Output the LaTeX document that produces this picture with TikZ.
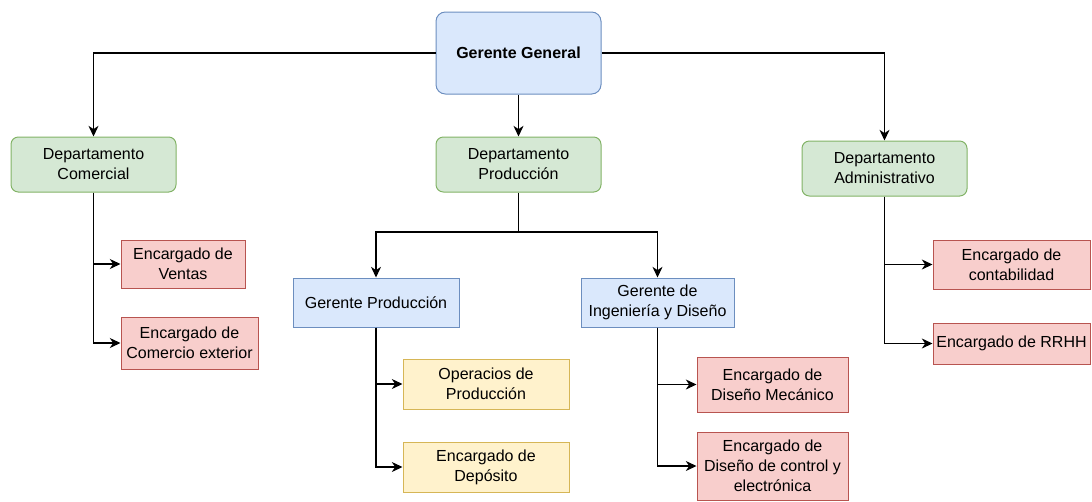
\documentclass[tikz,border=0pt]{standalone}
\usepackage{fontspec}
\setmainfont{Liberation Sans}
\usepackage{xcolor}
\usetikzlibrary{arrows.meta}

\definecolor{bluefill}{HTML}{DAE8FC}
\definecolor{blueline}{HTML}{6C8EBF}
\definecolor{greenfill}{HTML}{D5E8D4}
\definecolor{greenline}{HTML}{82B366}
\definecolor{redfill}{HTML}{F8CECC}
\definecolor{redline}{HTML}{B85450}
\definecolor{yellowfill}{HTML}{FFF2CC}
\definecolor{yellowline}{HTML}{D6B656}

\begin{document}
\begin{tikzpicture}[
      x=0.75pt, y=-0.75pt,
      box/.style={draw, line width=0.75pt, align=center, inner sep=2pt,
                  font=\fontsize{12}{15}\selectfont},
      mgr/.style={box, fill=bluefill, draw=blueline},
      dept/.style={box, rounded corners=5.5pt, fill=greenfill, draw=greenline},
      staff/.style={box, fill=redfill, draw=redline},
      ops/.style={box, fill=yellowfill, draw=yellowline},
      arr/.style={->, line width=0.9pt, >={Stealth[length=8pt,width=7.5pt,inset=2.5pt]}}
    ]
      \useasboundingbox (0,0) rectangle (1092,501);

      % Direction
      \node[mgr, rounded corners=7pt, minimum width=123.75pt, minimum height=61.5pt,
            font=\fontsize{12}{15}\selectfont\bfseries] (gg) at (518.5,53)
        {Gerente General};

      % Departments
      \node[dept, minimum width=123.75pt, minimum height=41.25pt] (depcom) at (93.5,164.5)
        {Departamento\\Comercial};
      \node[dept, minimum width=123.75pt, minimum height=41.25pt] (depprod) at (518.5,164.5)
        {Departamento\\Producción};
      \node[dept, minimum width=123.75pt, minimum height=41.25pt] (depadm) at (884.5,168.5)
        {Departamento\\Administrativo};

      % Comercial
      \node[staff, minimum width=93pt, minimum height=36pt] (ventas) at (183,264)
        {Encargado de\\Ventas};
      \node[staff, minimum width=102.75pt, minimum height=39pt] (comext) at (189.5,343)
        {Encargado de\\Comercio exterior};

      % Produccion
      \node[mgr, minimum width=124.5pt, minimum height=36.75pt] (gprod) at (376,302.5)
        {Gerente Producción};
      \node[mgr, minimum width=114.75pt, minimum height=36.75pt] (ging) at (657.5,302.5)
        {Gerente de\\Ingeniería y Diseño};
      \node[ops, minimum width=124.5pt, minimum height=37.5pt] (oper) at (486,384)
        {Operacios de\\Producción};
      \node[ops, minimum width=124.5pt, minimum height=37.5pt] (depos) at (486,467)
        {Encargado de\\Depósito};
      \node[staff, minimum width=113.25pt, minimum height=41.25pt] (dmec) at (772.5,384.5)
        {Encargado de\\Diseño Mecánico};
      \node[staff, minimum width=113.25pt, minimum height=51pt] (dctrl) at (772.5,466)
        {Encargado de\\Diseño de control y\\electrónica};

      % Administrativo
      \node[staff, minimum width=117.75pt, minimum height=36.75pt] (conta) at (1011.5,264.5)
        {Encargado de\\contabilidad};
      \node[staff, minimum width=117.75pt, minimum height=30.75pt] (rrhh) at (1011.5,343.5)
        {Encargado de RRHH};

      \coordinate (prodsplit) at (518.5,232);

      \draw[arr] (gg.west) -| (depcom.north);
      \draw[arr] (gg.south) -- (depprod.north);
      \draw[arr] (gg.east) -| (depadm.north);

      \draw[arr] (depcom.south) |- (ventas.west);
      \draw[arr] (depcom.south) |- (comext.west);

      \draw[arr] (depprod.south) -- (prodsplit) -| (gprod.north);
      \draw[arr] (prodsplit) -| (ging.north);
      \draw[arr] (gprod.south) |- (oper.west);
      \draw[arr] (gprod.south) |- (depos.west);
      \draw[arr] (ging.south) |- (dmec.west);
      \draw[arr] (ging.south) |- (dctrl.west);

      \draw[arr] (depadm.south) |- (conta.west);
      \draw[arr] (depadm.south) |- (rrhh.west);
    \end{tikzpicture}
\end{document}
